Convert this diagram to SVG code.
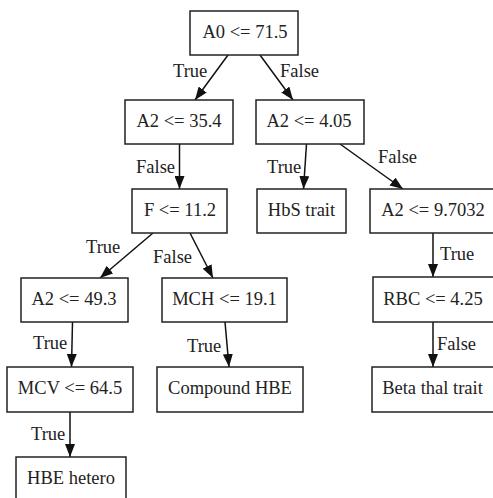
<svg xmlns="http://www.w3.org/2000/svg" width="493" height="498" viewBox="0 0 493 498">
<style>
.box{fill:#fff;stroke:#222;stroke-width:1.5}
.t{font-family:"Liberation Serif","Times New Roman",serif;font-size:18.5px;fill:#222;text-anchor:middle}
.l{font-family:"Liberation Serif","Times New Roman",serif;font-size:18.5px;fill:#222}
.e{stroke:#111;stroke-width:1.5;fill:none;marker-end:url(#ah)}
</style>
<defs>
<marker id="ah" markerUnits="userSpaceOnUse" viewBox="0 0 13 10" refX="13" refY="5" markerWidth="13" markerHeight="10" orient="auto">
<path d="M0,0 L13,5 L0,10 Z" fill="#111"/>
</marker>
</defs>
<rect width="493" height="498" fill="#fff"/>
<g id="connectors">
<line class="e" x1="228" y1="55" x2="195" y2="100"/>
<line class="e" x1="260" y1="55" x2="293" y2="100"/>
<line class="e" x1="179.5" y1="144" x2="179.5" y2="189"/>
<line class="e" x1="306.5" y1="144" x2="303.5" y2="189"/>
<line class="e" x1="340" y1="144" x2="403" y2="189"/>
<line class="e" x1="153" y1="233" x2="100" y2="278"/>
<line class="e" x1="190" y1="233" x2="213" y2="278"/>
<line class="e" x1="72.5" y1="322" x2="71.5" y2="367"/>
<line class="e" x1="225" y1="322" x2="229" y2="367"/>
<line class="e" x1="70" y1="412" x2="70" y2="457"/>
<line class="e" x1="433" y1="233" x2="433" y2="277"/>
<line class="e" x1="433" y1="322" x2="433" y2="367"/>
<text class="l" x="173" y="77">True</text>
<text class="l" x="280" y="77">False</text>
<text class="l" x="136" y="173">False</text>
<text class="l" x="267" y="173">True</text>
<text class="l" x="378" y="163">False</text>
<text class="l" x="86" y="253">True</text>
<text class="l" x="153" y="263">False</text>
<text class="l" x="33" y="349">True</text>
<text class="l" x="187" y="352">True</text>
<text class="l" x="31" y="440">True</text>
<text class="l" x="440" y="260">True</text>
<text class="l" x="437" y="350">False</text>
</g>
<g id="n0"><rect class="box" x="190" y="11" width="108" height="44"/><text class="t" x="245" y="38">A0 &lt;= 71.5</text></g>
<g id="n1"><rect class="box" x="125" y="100" width="108" height="44"/><text class="t" x="179" y="127">A2 &lt;= 35.4</text></g>
<g id="n2"><rect class="box" x="256" y="100" width="108" height="44"/><text class="t" x="309" y="127">A2 &lt;= 4.05</text></g>
<g id="n3"><rect class="box" x="132" y="189" width="95" height="44"/><text class="t" x="180" y="216">F &lt;= 11.2</text></g>
<g id="n4"><rect class="box" x="257" y="189" width="89" height="44"/><text class="t" x="301.5" y="216">HbS trait</text></g>
<g id="n5"><rect class="box" x="370" y="189" width="127" height="44"/><text class="t" x="433" y="216">A2 &lt;= 9.7032</text></g>
<g id="n6"><rect class="box" x="21" y="278" width="107" height="44"/><text class="t" x="74" y="305">A2 &lt;= 49.3</text></g>
<g id="n7"><rect class="box" x="162" y="278" width="125" height="44"/><text class="t" x="224.5" y="305">MCH &lt;= 19.1</text></g>
<g id="n8"><rect class="box" x="373" y="277" width="121" height="45"/><text class="t" x="433" y="305">RBC &lt;= 4.25</text></g>
<g id="n9"><rect class="box" x="7" y="367" width="126" height="45"/><text class="t" x="70" y="394">MCV &lt;= 64.5</text></g>
<g id="n10"><rect class="box" x="157" y="367" width="146" height="45"/><text class="t" x="230" y="394">Compound HBE</text></g>
<g id="n11"><rect class="box" x="372" y="367" width="122" height="45"/><text class="t" x="432.5" y="394">Beta thal trait</text></g>
<g id="n12"><rect class="box" x="16" y="457" width="110" height="45"/><text class="t" x="71" y="484">HBE hetero</text></g>
</svg>
